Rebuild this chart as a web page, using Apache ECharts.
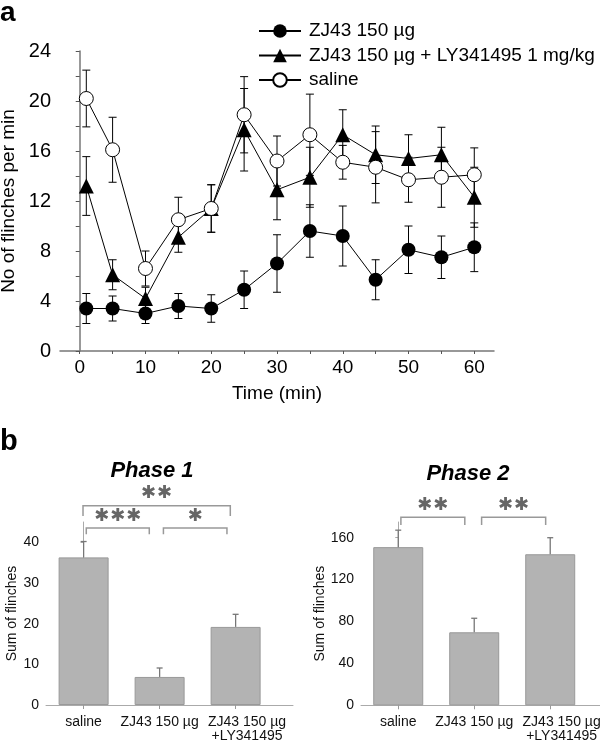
<!DOCTYPE html>
<html><head><meta charset="utf-8">
<script src="https://cdn.jsdelivr.net/npm/echarts@6/dist/echarts.min.js"></script>
<style>html,body{margin:0;padding:0;background:#fff}#c{width:600px;height:745px}</style>
</head><body><div id="c"></div>
<script>
// ---- data (panel a) ----
const times = [1, 5, 10, 15, 20, 25, 30, 35, 40, 45, 50, 55, 60];
const zj43Mean = [3.4, 3.4, 3.0, 3.6, 3.4, 4.9, 7.0, 9.6, 9.2, 5.7, 8.1, 7.5, 8.3];
const zj43Sem  = [1.2, 1.0, 0.8, 1.0, 1.1, 1.5, 2.3, 2.1, 2.4, 1.6, 1.9, 1.7, 1.95];
const lyMean   = [13.2, 6.1, 4.2, 9.1, 11.4, 17.7, 12.9, 13.9, 17.3, 15.7, 15.4, 15.7, 12.3];
const lySem    = [2.35, 1.2, 0.9, 1.2, 1.9, 3.3, 2.4, 2.4, 2.0, 2.3, 1.9, 2.2, 2.4];
const salMean  = [20.2, 16.1, 6.6, 10.5, 11.4, 18.9, 15.2, 17.3, 15.1, 14.7, 13.7, 13.9, 14.1];
const salSem   = [2.27, 2.6, 1.4, 1.8, 1.9, 3.05, 2.0, 3.25, 1.35, 2.85, 1.8, 2.4, 2.15];
const seriesNames = ['ZJ43 150 \u00b5g', 'ZJ43 150 \u00b5g + LY341495 1 mg/kg', 'saline'];
const xTickLabels = [0, 10, 20, 30, 40, 50, 60];
const xTicks = [0, 5, 10, 15, 20, 25, 30, 35, 40, 45, 50, 55, 60];

// ---- data (panel b) ----
const groups = ['saline', 'ZJ43 150 \u00b5g', 'ZJ43 150 \u00b5g\n+LY341495'];
const phase1Mean = [36.3, 6.9, 19.2];
const phase1Err  = [3.9, 2.2, 3.1];
const phase2Mean = [151, 69.7, 144.2];
const phase2Err  = [16.2, 13.4, 15.8];
const phase1Labels = [0, 10, 20, 30, 40];
const phase1Ticks = [0, 5, 10, 15, 20, 25, 30, 35, 40];
const phase2Labels = [0, 40, 80, 120, 160];
const phase2Ticks = [0, 20, 40, 60, 80, 100, 120, 140, 160];
// brackets: [fromGroup, toGroup, bracket level, leg end level, number of stars]
const phase1Brackets = [[0.035, 0.864, 43.5, 42.0, 3], [1.05, 1.886, 43.5, 42.0, 1], [-0.008, 1.93, 49.0, 46.5, 2]];
const phase2Brackets = [[0.035, 0.876, 179.5, 172.1, 2], [1.097, 1.94, 179.5, 172.1, 2]];

const FONT = "'Liberation Sans', Arial, sans-serif";

function errData(m, s) { return times.map((t, i) => [t, m[i] - s[i], m[i] + s[i]]); }
function errRender(params, api) {
  const x = api.value(0);
  const p1 = api.coord([x, api.value(1)]), p2 = api.coord([x, api.value(2)]);
  const w = 4, st = { stroke: '#000', lineWidth: 1 };
  return { type: 'group', children: [
    { type: 'line', shape: { x1: p1[0], y1: p1[1], x2: p2[0], y2: p2[1] }, style: st },
    { type: 'line', shape: { x1: p1[0] - w, y1: p1[1], x2: p1[0] + w, y2: p1[1] }, style: st },
    { type: 'line', shape: { x1: p2[0] - w, y1: p2[1], x2: p2[0] + w, y2: p2[1] }, style: st }
  ]};
}
function barErrRender(params, api) {
  const x = api.value(0);
  const p1 = api.coord([x, api.value(1)]), p2 = api.coord([x, api.value(2)]);
  const w = 3, st = { stroke: '#777', lineWidth: 1.3 };
  return { type: 'group', children: [
    { type: 'line', shape: { x1: p1[0], y1: p1[1], x2: p2[0], y2: p2[1] }, style: st },
    { type: 'line', shape: { x1: p2[0] - w, y1: p2[1], x2: p2[0] + w, y2: p2[1] }, style: st }
  ]};
}
function bracketRender(params, api) {
  const a = api.coord([api.value(0), api.value(2)]);
  const b = api.coord([api.value(1), api.value(2)]);
  const la = api.coord([api.value(0), api.value(3)]);
  const n = api.value(4);
  const children = [{ type: 'polyline', shape: { points: [[a[0], la[1]], a, b, [b[0], la[1]]] },
    style: { stroke: '#999', lineWidth: 1.5, fill: null } }];
  const cx = (a[0] + b[0]) / 2, cy = a[1] - 12, sp = 16;
  for (let k = 0; k < n; k++) {
    children.push({ type: 'text', x: cx + (k - (n - 1) / 2) * sp, y: cy,
      style: { text: '\u2731', fill: '#666', fontSize: 18, fontFamily: 'DejaVu Sans', align: 'center', verticalAlign: 'middle' } });
  }
  return { type: 'group', children };
}

const catFormatter = v => groups[Math.round(v)];

const chart = echarts.init(document.getElementById('c'));
chart.setOption({
  animation: false,
  textStyle: { fontFamily: FONT },
  title: [
    { text: 'Phase 1', left: 152, top: 460, textAlign: 'center', padding: 0,
      textStyle: { fontSize: 22, fontStyle: 'italic', fontWeight: 'bold', color: '#000', fontFamily: FONT } },
    { text: 'Phase 2', left: 468, top: 463, textAlign: 'center', padding: 0,
      textStyle: { fontSize: 22, fontStyle: 'italic', fontWeight: 'bold', color: '#000', fontFamily: FONT } }
  ],
  graphic: [
    { type: 'text', left: 0, top: -1, style: { text: 'a', fontSize: 28, fontWeight: 'bold', fill: '#000', fontFamily: FONT } },
    { type: 'text', left: 0, top: 427, style: { text: 'b', fontSize: 29, fontWeight: 'bold', fill: '#000', fontFamily: FONT } }
  ],
  legend: {
    data: seriesNames, orient: 'vertical', left: 253, top: 16, itemWidth: 42, itemHeight: 17, itemGap: 4.5,
    textStyle: { fontSize: 19, color: '#000', lineHeight: 20, fontFamily: FONT, padding: [0, 0, 0, 3] }
  },
  grid: [
    { left: 60, top: 51, width: 434, height: 300, outerBoundsMode: 'none', containLabel: false },
    { left: 46, top: 522, width: 247, height: 183, outerBoundsMode: 'none', containLabel: false },
    { left: 361, top: 522, width: 239, height: 183.3, outerBoundsMode: 'none', containLabel: false }
  ],
  xAxis: [
    { gridIndex: 0, type: 'value', min: -3, max: 63,
      name: 'Time (min)', nameLocation: 'middle', nameGap: 33, nameTextStyle: { fontSize: 19, color: '#000' },
      axisLine: { lineStyle: { color: '#777', width: 1.5 } },
      axisTick: { customValues: xTicks, length: 3, lineStyle: { color: '#555' } },
      axisLabel: { customValues: xTickLabels, fontSize: 19, color: '#000', margin: 7 },
      splitLine: { show: false } },
    { gridIndex: 1, type: 'value', min: -0.495, max: 2.755,
      axisLine: { lineStyle: { color: '#aaa', width: 1 } },
      axisTick: { customValues: [0, 1, 2], length: 4, lineStyle: { color: '#999' } },
      axisLabel: { customValues: [0, 1, 2.15], formatter: catFormatter, fontSize: 14, lineHeight: 14,
        color: '#111', margin: 10 },
      splitLine: { show: false } },
    { gridIndex: 2, type: 'value', min: -0.49, max: 2.655,
      axisLine: { lineStyle: { color: '#aaa', width: 1 } },
      axisTick: { customValues: [0, 1, 2], length: 4, lineStyle: { color: '#999' } },
      axisLabel: { customValues: [0, 1, 2.15], formatter: catFormatter, fontSize: 14, lineHeight: 14,
        color: '#111', margin: 10 },
      splitLine: { show: false } }
  ],
  yAxis: [
    { gridIndex: 0, type: 'value', min: 0, max: 24, interval: 4,
      name: 'No of flinches per min', nameLocation: 'middle', nameGap: 37, nameTextStyle: { fontSize: 19, color: '#000' },
      axisLine: { show: true, lineStyle: { color: '#777', width: 1.5 } },
      axisTick: { show: true, length: 4, lineStyle: { color: '#555' } },
      minorTick: { show: true, splitNumber: 2, length: 4, lineStyle: { color: '#555' } },
      axisLabel: { fontSize: 20, color: '#000', margin: 9 },
      splitLine: { show: false } },
    { gridIndex: 1, type: 'value', min: 0, max: 45,
      name: 'Sum of flinches', nameLocation: 'middle', nameGap: 26,
      nameTextStyle: { fontSize: 14, color: '#111' },
      axisLine: { show: true, lineStyle: { color: '#aaa', width: 1 } },
      axisTick: { show: true, customValues: phase1Ticks, length: 3, lineStyle: { color: '#aaa' } },
      axisLabel: { customValues: phase1Labels, fontSize: 14, color: '#111', margin: 7 },
      splitLine: { show: false } },
    { gridIndex: 2, type: 'value', min: 0, max: 175,
      name: 'Sum of flinches', nameLocation: 'middle', nameGap: 34,
      nameTextStyle: { fontSize: 14, color: '#111' },
      axisLine: { show: true, lineStyle: { color: '#aaa', width: 1 } },
      axisTick: { show: true, customValues: phase2Ticks, length: 3, lineStyle: { color: '#aaa' } },
      axisLabel: { customValues: phase2Labels, fontSize: 14, color: '#111', margin: 7 },
      splitLine: { show: false } }
  ],
  series: [
    { type: 'custom', xAxisIndex: 0, yAxisIndex: 0, renderItem: errRender, data: errData(zj43Mean, zj43Sem), encode: { x: 0, y: [1, 2] }, z: 1 },
    { type: 'custom', xAxisIndex: 0, yAxisIndex: 0, renderItem: errRender, data: errData(lyMean, lySem), encode: { x: 0, y: [1, 2] }, z: 1 },
    { type: 'custom', xAxisIndex: 0, yAxisIndex: 0, renderItem: errRender, data: errData(salMean, salSem), encode: { x: 0, y: [1, 2] }, z: 1 },
    { name: seriesNames[0], type: 'line', xAxisIndex: 0, yAxisIndex: 0, data: times.map((t, i) => [t, zj43Mean[i]]),
      symbol: 'circle', symbolSize: 14, itemStyle: { color: '#000' }, lineStyle: { color: '#000', width: 1 }, z: 3 },
    { name: seriesNames[1], type: 'line', xAxisIndex: 0, yAxisIndex: 0, data: times.map((t, i) => [t, lyMean[i]]),
      symbol: 'triangle', symbolSize: 15, itemStyle: { color: '#000' }, lineStyle: { color: '#000', width: 1 }, z: 3 },
    { name: seriesNames[2], type: 'line', xAxisIndex: 0, yAxisIndex: 0, data: times.map((t, i) => [t, salMean[i]]),
      symbol: 'circle', symbolSize: 14, itemStyle: { color: '#fff', borderColor: '#000', borderWidth: 1 },
      lineStyle: { color: '#000', width: 1 }, z: 4 },

    { type: 'bar', xAxisIndex: 1, yAxisIndex: 1, barWidth: 50, data: phase1Mean.map((v, i) => [i, v]),
      itemStyle: { color: '#b3b3b3', borderColor: '#999', borderWidth: 1 }, z: 2 },
    { type: 'custom', xAxisIndex: 1, yAxisIndex: 1, renderItem: barErrRender,
      data: phase1Mean.map((v, i) => [i, v, v + phase1Err[i]]), encode: { x: 0, y: [1, 2] }, z: 3 },
    { type: 'custom', xAxisIndex: 1, yAxisIndex: 1, renderItem: bracketRender, data: phase1Brackets,
      encode: { x: [0, 1], y: [2, 3] }, z: 3 },

    { type: 'bar', xAxisIndex: 2, yAxisIndex: 2, barWidth: 50, data: phase2Mean.map((v, i) => [i, v]),
      itemStyle: { color: '#b3b3b3', borderColor: '#999', borderWidth: 1 }, z: 2 },
    { type: 'custom', xAxisIndex: 2, yAxisIndex: 2, renderItem: barErrRender,
      data: phase2Mean.map((v, i) => [i, v, v + phase2Err[i]]), encode: { x: 0, y: [1, 2] }, z: 3 },
    { type: 'custom', xAxisIndex: 2, yAxisIndex: 2, renderItem: bracketRender, data: phase2Brackets,
      encode: { x: [0, 1], y: [2, 3] }, z: 3 }
  ]
});
</script></body></html>
